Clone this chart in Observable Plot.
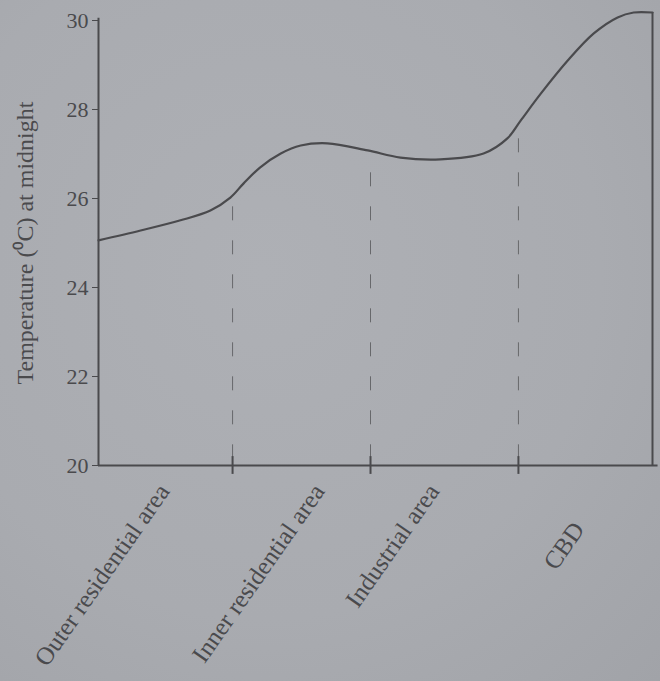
<!DOCTYPE html>
<html>
<head>
<meta charset="utf-8">
<script src="https://cdn.jsdelivr.net/npm/d3@7"></script>
<script src="https://cdn.jsdelivr.net/npm/@observablehq/plot@0.6"></script>
<style>
  html, body { margin: 0; padding: 0; }
  body {
    width: 660px; height: 681px; overflow: hidden;
    background: radial-gradient(ellipse at 40% 40%, #aeb0b5 0%, #a9abb0 60%, #a1a3a8 100%);
  }
  #chart svg { display: block; background: transparent; }
</style>
</head>
<body>
<div id="chart"></div>
<script>
// Distance across the city (0 = outer edge, 100 = CBD edge)
const distance = [0, 7.6, 14.8, 20.2, 23.8, 26.2, 29.2, 32.9, 36.5, 41.3, 48.6, 54.5, 61.7, 69.5, 73.8, 76.2, 79.8, 84.7, 89.4, 93.7, 96.6, 100];
const temperature = [25.06, 25.28, 25.51, 25.73, 26.02, 26.34, 26.7, 27.01, 27.19, 27.24, 27.08, 26.92, 26.88, 27.01, 27.35, 27.75, 28.35, 29.1, 29.71, 30.07, 30.18, 30.18];

// Zone boundaries and the tops of their dashed lines
const boundaries = [24.2, 49.1, 75.8];
const dashTops = [25.84, 26.7, 27.57];

// Zone labels and where their ends sit
const zones = ["Outer residential area", "Inner residential area", "Industrial area"];
const zonePos = [13.0, 41.0, 61.7];
const lastZone = ["CBD"];
const lastZonePos = [87.9];

const yTicks = [20, 22, 24, 26, 28, 30];
const yLabel = "Temperature (\u2070C) at midnight";

const data = distance.map((d, i) => ({d, t: temperature[i]}));
const ink = "#4a4a4d";
const font = "'Liberation Serif', 'Times New Roman', serif";

const chart = Plot.plot({
  width: 660,
  height: 681,
  marginLeft: 98,
  marginRight: 8,
  marginTop: 20,
  marginBottom: 216,
  style: {background: "transparent", fontFamily: font, color: ink},
  x: {domain: [0, 100], axis: null},
  y: {domain: [20, 30], axis: null},
  marks: [
    Plot.axisY({ticks: yTicks, tickSize: 6, tickPadding: 4, fontSize: 22, stroke: ink, fill: ink, label: null}),
    // left axis line
    Plot.ruleX([0], {y1: 20, y2: 30.05, stroke: ink, strokeWidth: 2}),
    // bottom axis line
    Plot.ruleY([20], {x1: 0, x2: 101, stroke: ink, strokeWidth: 2}),
    // right edge line
    Plot.ruleX([100], {y1: 20, y2: temperature[temperature.length - 1], stroke: ink, strokeWidth: 2}),
    // boundary ticks crossing the axis
    Plot.ruleX(boundaries, {y1: 19.8, y2: 20.2, stroke: ink, strokeWidth: 2}),
    // dashed boundaries
    Plot.ruleX(boundaries, {y1: 20.15, y2: (d, i) => dashTops[i], stroke: ink, strokeWidth: 1, strokeDasharray: "14 20", strokeOpacity: 0.7}),
    // temperature curve
    Plot.line(data, {x: "d", y: "t", curve: "catmull-rom", stroke: ink, strokeWidth: 2.2}),
    // zone labels
    Plot.text(zones, {x: (d, i) => zonePos[i], frameAnchor: "bottom", dy: 26, rotate: -55, textAnchor: "end", fontSize: 25, fill: ink}),
    Plot.text(lastZone, {x: (d, i) => lastZonePos[i], frameAnchor: "bottom", dy: 64, rotate: -55, textAnchor: "end", fontSize: 25, fill: ink}),
    // y label
    Plot.text([yLabel], {frameAnchor: "left", dx: -73, rotate: -90, textAnchor: "middle", lineAnchor: "middle", fontSize: 24, fill: ink})
  ]
});
document.getElementById("chart").appendChild(chart);
</script>
</body>
</html>
